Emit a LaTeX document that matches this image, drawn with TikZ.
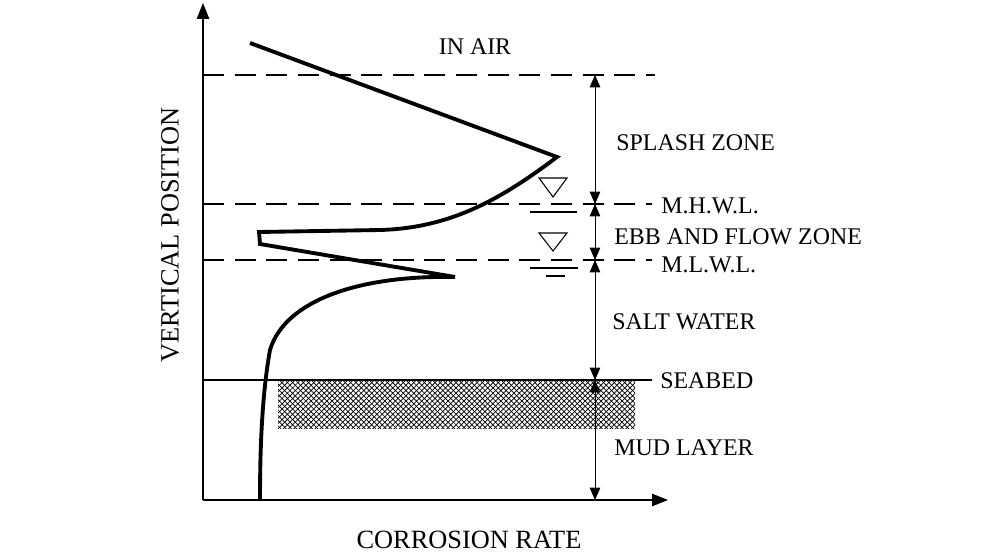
\documentclass[tikz,border=0pt]{standalone}
\usepackage{fontspec}
\setmainfont{Liberation Serif}
\usetikzlibrary{arrows.meta,patterns}
\begin{document}
\begin{tikzpicture}[x=0.02cm,y=-0.02cm,
  lbl/.style={font=\fontsize{13.6}{15}\selectfont,anchor=west,inner sep=0},
  lvl/.style={dash pattern=on 12pt off 6pt,line width=0.6pt},
  dim/.style={{Triangle[length=7pt,width=6pt]}-{Triangle[length=7pt,width=6pt]},line width=0.5pt},
  curve/.style={line width=2.2pt,line join=miter}]
\useasboundingbox (0,0) rectangle (1000,554);
% hatch
\fill[pattern=crosshatch,pattern color=black] (278,381) rectangle (635,428);
% axes
\coordinate (o) at (203,500);
\coordinate (ytop) at (203,3);
\coordinate (xend) at (668,500);
\draw[line width=0.6pt,-{Triangle[length=9pt,width=7pt]}] (o) -- (ytop);
\draw[line width=0.6pt,-{Triangle[length=9pt,width=7pt]}] (o) -- (xend);
% level lines
\draw[lvl] (203,75) -- (655,75);
\draw[lvl] (203,204) -- (652,204);
\draw[lvl] (203,260) -- (652,260);
\draw[line width=0.6pt] (203,380) -- (652,380);
% dimension line
\coordinate (d1) at (595,75);
\coordinate (d2) at (595,204);
\coordinate (d3) at (595,260);
\coordinate (d4) at (595,380);
\coordinate (d5) at (595,500);
\draw[dim] (d1) -- (d2);
\draw[dim] (d2) -- (d3);
\draw[dim] (d3) -- (d4);
\draw[dim] (d4) -- (d5);
% water symbols
\draw[line width=0.6pt] (539,178) -- (567,178) -- (553,197) -- cycle;
\draw[line width=0.6pt] (530,212) -- (577,212);
\draw[line width=0.6pt] (539,233) -- (567,233) -- (553,251) -- cycle;
\draw[line width=0.6pt] (530,268) -- (578,268);
\draw[line width=0.6pt] (546,276) -- (565,276);
% curve
\draw[curve] (250,43) -- (557,157) .. controls (500,200) and (450,228) .. (380,230) -- (259,232) -- (260,244) -- (455,277)
  .. controls (360,275) and (285,300) .. (270,350) .. controls (261,400) and (260,460) .. (260,500);
% labels
\node[lbl,anchor=center] (air) at (475,47) {IN AIR};
\node[lbl] (sz) at (616,143) {SPLASH ZONE};
\node[lbl] (mh) at (661,206) {M.H.W.L.};
\node[lbl] (eb) at (614,237) {EBB AND FLOW ZONE};
\node[lbl] (ml) at (661,265) {M.L.W.L.};
\node[lbl] (sw) at (612,322) {SALT WATER};
\node[lbl] (sb) at (660,381) {SEABED};
\node[lbl] (mud) at (614,448) {MUD LAYER};
\node[font=\fontsize{15}{17}\selectfont,rotate=90] (vp) at (170,235) {VERTICAL POSITION};
\node[font=\fontsize{15}{17}\selectfont] (cr) at (469,540) {CORROSION RATE};
\end{tikzpicture}
\end{document}
